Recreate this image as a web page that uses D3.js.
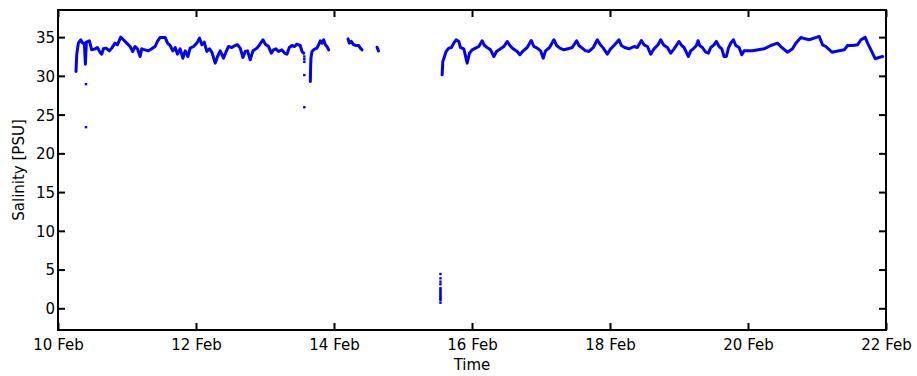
<!DOCTYPE html>
<html>
<head>
<meta charset="utf-8">
<script src="https://cdn.jsdelivr.net/npm/d3@7"></script>
<style>
  html, body { margin: 0; padding: 0; background: #fff; }
  svg { display: block; }
  text { font-family: "DejaVu Sans", sans-serif; font-size: 15px; fill: #000; }
</style>
</head>
<body>
<svg id="chart" width="917" height="376"></svg>
<script>
// ---- data: time as fractional day of February, salinity in PSU ----
const xTickDays = [10, 12, 14, 16, 18, 20, 22];
const yTickValues = [0, 5, 10, 15, 20, 25, 30, 35];
const xLabel = "Time";
const yLabel = "Salinity [PSU]";

const segA = [
  [10.261,30.56],[10.271,32.72],[10.295,34.22],[10.329,34.66],[10.358,34.22],[10.382,34.22],
  [10.397,31.51],[10.411,34.35],[10.455,34.53],[10.489,33.36],[10.537,33.49],[10.571,33.66],
  [10.609,33.06],[10.634,32.80],[10.658,33.49],[10.697,33.58],[10.745,33.23],[10.779,33.58],
  [10.827,34.22],[10.861,34.01],[10.909,35.00],[10.948,34.66],[10.996,34.22],[11.045,33.79],
  [11.083,33.15],[11.117,33.79],[11.151,33.49],[11.190,32.50],[11.214,33.49],[11.262,33.36],
  [11.311,33.23],[11.359,33.49],[11.408,33.79],[11.441,34.44],[11.480,34.96],[11.553,34.96],
  [11.587,34.22],[11.625,33.92],[11.664,33.23],[11.698,33.66],[11.732,32.80],[11.770,33.49],
  [11.809,32.28],[11.843,33.23],[11.882,32.50],[11.915,33.58],[11.964,33.79],[12.012,34.22],
  [12.051,34.87],[12.085,34.01],[12.119,34.35],[12.157,33.15],[12.196,33.49],[12.230,33.06],
  [12.278,31.64],[12.312,32.50],[12.351,33.23],[12.399,32.28],[12.438,33.15],[12.472,33.79],
  [12.520,33.66],[12.568,33.92],[12.602,34.01],[12.641,33.58],[12.680,32.37],[12.714,33.15],
  [12.747,33.23],[12.786,32.07],[12.825,33.23],[12.883,33.58],[12.922,34.01],[12.970,34.66],
  [13.004,34.09],[13.052,33.79],[13.091,32.93],[13.124,33.36],[13.158,33.49],[13.197,33.15],
  [13.245,33.36],[13.284,32.93],[13.318,32.80],[13.352,33.66],[13.390,33.92],[13.429,33.79],
  [13.463,34.09],[13.511,33.92],[13.536,33.15],[13.560,32.93]
];
const segB = [
  [13.657,29.27],[13.661,31.00],[13.666,32.28],[13.681,33.15],[13.705,33.36],[13.729,33.49],
  [13.753,33.58],[13.777,34.01],[13.802,34.53],[13.826,34.22],[13.850,34.66],[13.874,34.01],
  [13.898,33.79],[13.923,33.36]
];
const segC = [
  [14.203,34.78],[14.222,34.22],[14.251,34.44],[14.285,34.01],[14.319,33.92],[14.358,33.92],
  [14.382,33.58],[14.406,33.36]
];
const segD = [[14.624,33.70],[14.635,33.45],[14.645,33.20]];
const segE = [
  [15.567,30.13],[15.577,31.85],[15.601,32.50],[15.625,33.15],[15.664,33.58],[15.702,33.66],
  [15.736,34.22],[15.770,34.66],[15.809,34.44],[15.833,33.66],[15.882,33.49],[15.930,31.64],
  [15.964,32.93],[16.002,33.36],[16.051,33.58],[16.099,33.79],[16.147,34.53],[16.181,33.92],
  [16.220,33.66],[16.268,33.36],[16.317,32.50],[16.355,33.15],[16.413,33.49],[16.462,33.79],
  [16.510,34.44],[16.549,33.92],[16.597,33.49],[16.655,33.15],[16.694,32.72],[16.742,33.23],
  [16.800,33.66],[16.858,34.57],[16.897,33.79],[16.945,33.58],[16.994,33.23],[17.032,32.28],
  [17.066,33.23],[17.124,33.66],[17.187,34.66],[17.226,33.92],[17.274,33.58],[17.332,33.36],
  [17.390,33.49],[17.453,33.66],[17.516,34.53],[17.550,33.92],[17.598,33.58],[17.647,33.23],
  [17.695,33.15],[17.758,33.66],[17.816,34.66],[17.855,34.09],[17.903,33.58],[17.961,32.80],
  [18.010,33.49],[18.068,34.01],[18.130,34.66],[18.164,33.92],[18.213,33.66],[18.276,33.49],
  [18.348,33.79],[18.397,33.66],[18.455,34.57],[18.493,34.01],[18.542,33.79],[18.590,32.80],
  [18.638,33.49],[18.696,34.01],[18.735,34.66],[18.774,34.01],[18.832,33.66],[18.880,32.93],
  [18.929,33.49],[19.001,34.44],[19.039,33.92],[19.073,33.66],[19.097,33.23],[19.136,32.50],
  [19.170,33.23],[19.218,33.58],[19.252,33.92],[19.276,34.53],[19.300,33.92],[19.339,33.66],
  [19.387,33.06],[19.426,32.93],[19.460,33.66],[19.508,34.01],[19.542,34.44],[19.581,33.79],
  [19.620,33.49],[19.653,32.50],[19.687,32.50],[19.716,33.58],[19.750,34.22],[19.789,34.66],
  [19.823,33.92],[19.871,33.66],[19.910,32.72],[19.944,33.23],[20.065,33.23],[20.234,33.49],
  [20.331,33.92],[20.427,34.22],[20.490,33.66],[20.572,33.06],[20.645,33.49],[20.693,34.22],
  [20.766,34.96],[20.829,34.78],[20.887,34.66],[20.959,34.87],[21.032,35.09],[21.080,34.01],
  [21.129,33.79],[21.216,33.06],[21.322,33.23],[21.395,33.36],[21.443,33.92],[21.516,33.92],
  [21.588,34.01],[21.637,34.66],[21.699,34.96],[21.733,34.22],[21.782,33.36],[21.845,32.20],
  [21.893,32.37],[21.951,32.50]
];
const segments = [segA, segB, segC, segD, segE];

// isolated samples (outliers)
const dots = [
  [10.406,28.93],[10.406,23.38],
  [13.570,32.50],[13.570,32.15],[13.570,31.80],[13.570,30.10],[13.570,25.95],
  [15.543,4.43],[15.543,3.87],[15.543,3.44],[15.543,3.10],[15.543,2.60],[15.543,2.40],
  [15.543,2.20],[15.543,2.00],[15.543,1.80],[15.543,1.60],[15.543,1.40],[15.543,1.20],
  [15.543,1.07],[15.543,0.72]
];

// ---- chart ----
const DAY = 86400000;
const base = Date.UTC(2013, 1, 1);
const toDate = d => new Date(base + (d - 1) * DAY);

const svg = d3.select("#chart");
const mL = 58, mR = 886, mT = 10, mB = 330;

const x = d3.scaleUtc().domain([toDate(10), toDate(22)]).range([mL, mR]);
const y = d3.scaleLinear().domain([-2.8, 38.5]).range([mB, mT]);

const blue = "#0000ff";

const line = d3.line().x(d => x(toDate(d[0]))).y(d => y(d[1]));
svg.append("g").selectAll("path").data(segments).join("path")
  .attr("d", line)
  .attr("fill", "none")
  .attr("stroke", blue)
  .attr("stroke-width", 3)
  .attr("stroke-linejoin", "round")
  .attr("stroke-linecap", "round");

svg.append("g").selectAll("rect").data(dots).join("rect")
  .attr("x", d => x(toDate(d[0])) - 1.2)
  .attr("y", d => y(d[1]) - 1.2)
  .attr("width", 2.4).attr("height", 2.4)
  .attr("fill", blue);

const fmt = d3.utcFormat("%-d %b");
const xt = xTickDays.map(toDate);

const gx = svg.append("g").attr("transform", `translate(0,${mB})`)
  .call(d3.axisBottom(x).tickValues(xt).tickFormat(fmt).tickSizeInner(-7).tickSizeOuter(0));
const gxt = svg.append("g").attr("transform", `translate(0,${mT})`)
  .call(d3.axisTop(x).tickValues(xt).tickFormat("").tickSizeInner(-7).tickSizeOuter(0));
const gy = svg.append("g").attr("transform", `translate(${mL},0)`)
  .call(d3.axisLeft(y).tickValues(yTickValues).tickSizeInner(-7).tickSizeOuter(0));
const gyr = svg.append("g").attr("transform", `translate(${mR},0)`)
  .call(d3.axisRight(y).tickValues(yTickValues).tickFormat("").tickSizeInner(-7).tickSizeOuter(0));

[gx, gxt, gy, gyr].forEach(g => {
  g.select(".domain").remove();
  g.selectAll(".tick line").attr("stroke", "#000").attr("stroke-width", 2);
  g.selectAll("text").attr("font-family", "DejaVu Sans, sans-serif").attr("font-size", 15).attr("fill", "#000");
});
gx.selectAll(".tick text").attr("dy", null).attr("y", 20);
gy.selectAll(".tick text").attr("x", -3).attr("dy", "0.36em");

svg.append("rect")
  .attr("x", mL).attr("y", mT)
  .attr("width", mR - mL).attr("height", mB - mT)
  .attr("fill", "none").attr("stroke", "#000").attr("stroke-width", 2);

svg.append("text")
  .attr("x", (mL + mR) / 2).attr("y", 370)
  .attr("text-anchor", "middle")
  .text(xLabel);

svg.append("text")
  .attr("transform", `translate(24,${(mT + mB) / 2}) rotate(-90)`)
  .attr("text-anchor", "middle")
  .text(yLabel);
</script>
</body>
</html>
